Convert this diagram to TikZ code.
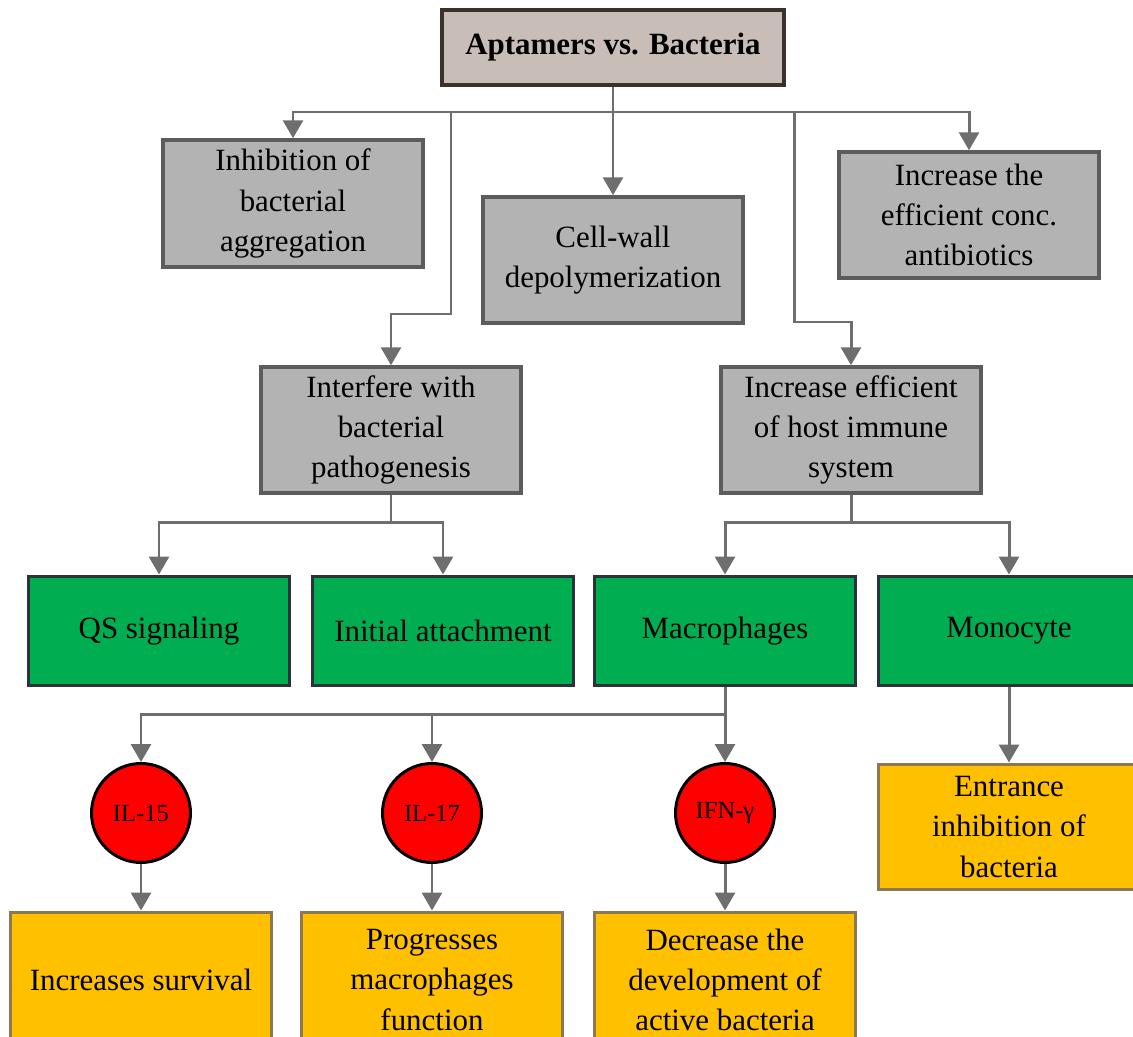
\documentclass[tikz,border=0pt]{standalone}
\usepackage{fontspec}
\setmainfont{Liberation Serif}
\usetikzlibrary{arrows.meta}

\definecolor{titlefill}{RGB}{201,189,183}
\definecolor{titleline}{RGB}{58,48,44}
\definecolor{grayfill}{RGB}{179,179,179}
\definecolor{grayline}{RGB}{92,92,92}
\definecolor{greenfill}{RGB}{0,173,80}
\definecolor{greenline}{RGB}{40,52,58}
\definecolor{yellowfill}{RGB}{255,192,0}
\definecolor{yellowline}{RGB}{140,120,83}
\definecolor{linkgray}{RGB}{110,110,110}

\tikzset{
  txt/.style={align=center, inner sep=0pt, text=black,
    font=\fontsize{17.6}{22.8}\selectfont},
  titlebox/.style={txt, draw=titleline, fill=titlefill, line width=2.2pt,
    minimum width=6.84cm, minimum height=1.5cm, font=\fontsize{17.6}{22.8}\selectfont\bfseries},
  graybox/.style={txt, draw=grayline, fill=grayfill, line width=2pt,
    minimum width=5.2cm, minimum height=2.52cm},
  greenbox/.style={txt, draw=greenline, fill=greenfill, line width=1.7pt,
    minimum width=5.22cm, minimum height=2.2cm},
  yellowbox/.style={txt, draw=yellowline, fill=yellowfill, line width=1.7pt,
    minimum width=5.24cm, minimum height=2.52cm},
  cytokine/.style={circle, draw=black, fill=red, line width=1.7pt, inner sep=0pt,
    minimum size=1.98cm, font=\fontsize{14}{16}\selectfont},
  link/.style={draw=linkgray, line width=1.7pt},
  arr/.style={link, -{Triangle[length=0.36cm, width=0.4cm]}}
}

\begin{document}
\begin{tikzpicture}[x=0.02cm, y=-0.02cm]
\useasboundingbox (0,0) rectangle (1133,1037);
\clip (0,0) rectangle (1133,1037);

\node[titlebox] (title) at (613,47.5) {Aptamers vs. Bacteria};

\node[graybox, minimum height=2.54cm] (inhib) at (293,203.5) {Inhibition of\\bacterial\\aggregation};
\node[graybox] (cellwall) at (613,260) {Cell-wall\\depolymerization};
\node[graybox] (antib) at (969,215) {Increase the\\efficient conc.\\antibiotics};
\node[graybox] (interfere) at (391,430) {Interfere with\\bacterial\\pathogenesis};
\node[graybox] (host) at (851,430) {Increase efficient\\of host immune\\system};

\node[greenbox] (qs) at (159,631) {QS signaling};
\node[greenbox] (attach) at (443,631) {Initial attachment};
\node[greenbox] (macro) at (725,631) {Macrophages};
\node[greenbox] (mono) at (1009,631) {Monocyte};

\node[cytokine] (il15) at (141,813) {IL-15};
\node[cytokine] (il17) at (432,813) {IL-17};
\node[cytokine] (ifn) at (725,813) {IFN-γ};

\node[yellowbox, minimum height=2.72cm] (surv) at (141,980) {Increases survival};
\node[yellowbox, minimum height=2.72cm] (prog) at (432,980) {Progresses\\macrophages\\function};
\node[yellowbox, minimum height=2.72cm] (decr) at (725,980) {Decrease the\\development of\\active bacteria};
\node[yellowbox] (entr) at (1009,827) {Entrance\\inhibition of\\bacteria};

\coordinate (bus) at (613,112);
\coordinate (lbend) at (451,314);
\coordinate (rbend) at (794,322);

\draw[link] (title.south) -- (bus);
\draw[arr] (bus) -| (inhib.north);
\draw[arr] (bus) -- (cellwall.north);
\draw[arr] (bus) -| (antib.north);
\draw[arr] (bus) -| (lbend) -| (interfere.north);
\draw[arr] (bus) -| (rbend) -| (host.north);

\draw[arr] (interfere.south) -- ++(0,28) -| (qs.north);
\draw[arr] (interfere.south) -- ++(0,28) -| (attach.north);
\draw[arr] (host.south) -- ++(0,28) -| (macro.north);
\draw[arr] (host.south) -- ++(0,28) -| (mono.north);

\draw[arr] (macro.south) -- ++(0,27) -| (il15.north);
\draw[arr] (macro.south) -- ++(0,27) -| (il17.north);
\draw[arr] (macro.south) -- (ifn.north);
\draw[arr] (mono.south) -- (entr.north);

\draw[arr] (il15.south) -- (surv.north);
\draw[arr] (il17.south) -- (prog.north);
\draw[arr] (ifn.south) -- (decr.north);
\end{tikzpicture}
\end{document}
